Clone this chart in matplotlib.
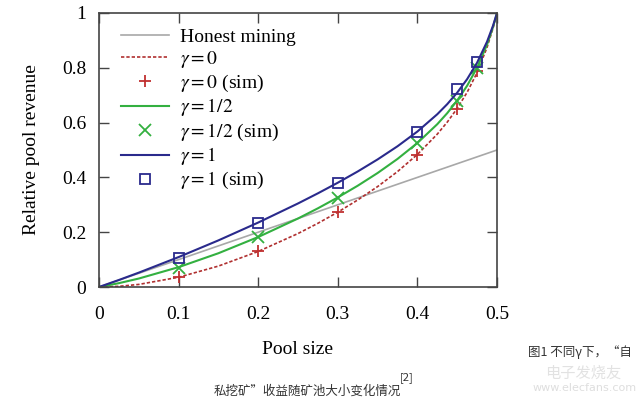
import matplotlib
matplotlib.use("Agg")
import matplotlib.pyplot as plt

plt.rcParams['font.family'] = ['Liberation Serif', 'DejaVu Serif']
plt.rcParams['mathtext.fontset'] = 'stix'

# Data
pool = [0.0, 0.025, 0.05, 0.1, 0.15, 0.2, 0.25, 0.275, 0.3, 0.325, 0.35, 0.375, 0.4,
        0.425, 0.4375, 0.45, 0.4625, 0.475, 0.4875, 0.495, 0.5]
rev_g0 = [0.0, 0.0024, 0.0094, 0.0356, 0.0763, 0.1297, 0.1951, 0.2325, 0.2731, 0.3176,
          0.3665, 0.4212, 0.4837, 0.5580, 0.6017, 0.6518, 0.7107, 0.7826, 0.8745, 0.9444, 1.0]
rev_g05 = [0.0, 0.0140, 0.0309, 0.0724, 0.1232, 0.1824, 0.2500, 0.2872, 0.3269, 0.3696,
           0.4160, 0.4674, 0.5256, 0.5943, 0.6346, 0.6806, 0.7347, 0.8006, 0.8849, 0.9490, 1.0]
rev_g1 = [0.0, 0.0256, 0.0524, 0.1092, 0.1701, 0.2352, 0.3049, 0.3419, 0.3806, 0.4216,
          0.4656, 0.5136, 0.5674, 0.6306, 0.6674, 0.7094, 0.7587, 0.8187, 0.8954, 0.9537, 1.0]
honest_x = [0.0, 0.5]
honest_y = [0.0, 0.5]

sim_x = [0.1, 0.2, 0.3, 0.4, 0.45, 0.475]
sim_g0 = [0.035, 0.13, 0.272, 0.482, 0.650, 0.790]
sim_g05 = [0.071, 0.182, 0.326, 0.524, 0.680, 0.800]
sim_g1 = [0.106, 0.234, 0.379, 0.566, 0.721, 0.821]

xticks = [0, 0.1, 0.2, 0.3, 0.4, 0.5]
xticklabels = ['0', '0.1', '0.2', '0.3', '0.4', '0.5']
yticks = [0, 0.2, 0.4, 0.6, 0.8, 1.0]
yticklabels = ['0', '0.2', '0.4', '0.6', '0.8', '1']

fig = plt.figure(figsize=(6.39, 4.04), dpi=100)
ax = fig.add_axes([99/639, 1-287/404, 398/639, 274/404])

c_grey = '#a8a8a8'
c_red = '#b03030'
c_green = '#33b040'
c_blue = '#2a2a8c'

ax.plot(honest_x, honest_y, color=c_grey, lw=1.2, label='Honest mining')
ax.plot(pool, rev_g0, color=c_red, lw=1.2, ls=(0, (2, 1.2)), label=r'$\gamma = 0$')
ax.plot(sim_x, sim_g0, ls='none', marker='+', ms=9, mew=1.3, color='#c03030', label=r'$\gamma = 0$ (sim)')
ax.plot(pool, rev_g05, color=c_green, lw=1.5, label=r'$\gamma = 1/2$')
ax.plot(sim_x, sim_g05, ls='none', marker='x', ms=8, mew=1.3, color=c_green, label=r'$\gamma = 1/2$ (sim)')
ax.plot(pool, rev_g1, color=c_blue, lw=1.5, label=r'$\gamma = 1$')
ax.plot(sim_x, sim_g1, ls='none', marker='s', ms=7.5, mew=1.3, mfc='none', color=c_blue, label=r'$\gamma = 1$ (sim)')

ax.set_xlim(0, 0.5)
ax.set_ylim(0, 1)
ax.set_xticks(xticks)
ax.set_xticklabels(xticklabels)
ax.set_yticks(yticks)
ax.set_yticklabels(yticklabels)
ax.tick_params(direction='in', length=7, width=1, color='#444444', labelsize=14,
               top=True, right=True)
ax.tick_params(axis='x', pad=14)
ax.tick_params(axis='y', pad=9)
for s in ax.spines.values():
    s.set_color('#444444')
    s.set_linewidth(1.2)

ax.set_xlabel('Pool size', fontsize=14, labelpad=13)
ax.set_ylabel('Relative pool revenue', fontsize=14, labelpad=16)

leg = ax.legend(loc='upper left', bbox_to_anchor=(0.02, 0.995), frameon=False, fontsize=14,
                handlelength=2.5, handletextpad=0.55, labelspacing=0.15, borderaxespad=0.3)

fig.text(528/639, 1-352/404, '图1 不同γ下，“自', fontsize=9, color='#333333',
         family=['Noto Sans CJK SC', 'DejaVu Sans'], va='center', ha='left')
fig.text(214/639, 1-391/404, '私挖矿”收益随矿池大小变化情况', fontsize=9, color='#333333',
         family=['Noto Sans CJK SC', 'DejaVu Sans'], va='center', ha='left')
fig.text(400/639, 1-378/404, '[2]', fontsize=8, color='#333333',
         family=['Noto Sans CJK SC', 'DejaVu Sans'], va='center', ha='left')
fig.text(545/639, 1-373/404, '电子发烧友', fontsize=11, color='#e2e2e2',
         family=['Noto Sans CJK SC', 'DejaVu Sans'], va='center', ha='left', style='italic')
fig.text(533/639, 1-388/404, 'www.elecfans.com', fontsize=8, color='#dedede',
         family=['DejaVu Sans'], va='center', ha='left')

fig.savefig('out.png', dpi=100)
